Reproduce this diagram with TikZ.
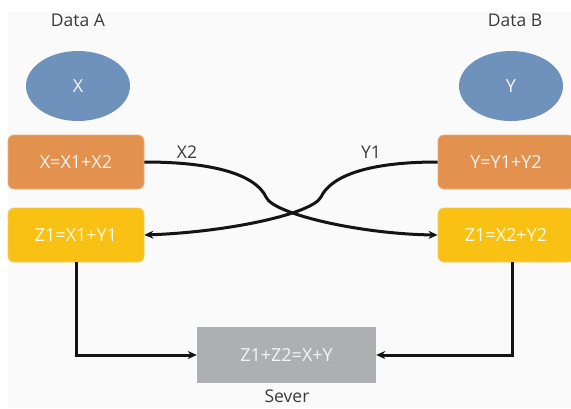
\documentclass[tikz,border=0pt]{standalone}
\usepackage{fontspec}
\setmainfont{Open Sans}
\usetikzlibrary{arrows.meta,shapes.geometric}
\definecolor{bgpanel}{HTML}{FAFAFA}
\definecolor{ellblue}{HTML}{6E92BC}
\definecolor{boxorange}{HTML}{E3914E}
\definecolor{boxorangeline}{HTML}{EBB07F}
\definecolor{boxyellow}{HTML}{F9C113}
\definecolor{boxyellowline}{HTML}{F3CC63}
\definecolor{boxgray}{HTML}{AEAFB2}
\definecolor{labelgray}{HTML}{3A3A3A}
\tikzset{
  every node/.style={font=\fontsize{18}{18}\selectfont, inner sep=0pt},
  datablob/.style={ellipse, fill=ellblue, minimum width=104pt, minimum height=70pt, text=white!92!ellblue},
  splitbox/.style={rectangle, rounded corners=6pt, fill=boxorange, draw=boxorangeline, line width=0.8pt,
    minimum width=136pt, minimum height=54pt, text=white!92!boxorange},
  sumbox/.style={rectangle, rounded corners=6pt, fill=boxyellow, draw=boxyellowline, line width=0.8pt,
    minimum width=136pt, minimum height=54pt, text=white!92!boxyellow},
  serverbox/.style={rectangle, fill=boxgray, minimum width=179pt, minimum height=56pt, text=white!88!boxgray},
  caption/.style={text=labelgray, font=\fontsize{17.5}{17.5}\selectfont},
  flow/.style={line width=3pt, black!92, -{Stealth[length=9pt,width=8pt]}},
}
\begin{document}
\begin{tikzpicture}[x=1pt, y=-1pt]
  \useasboundingbox (0,0) rectangle (571,408);
  \fill[white] (0,0) rectangle (571,408);
  \fill[bgpanel] (8,12) rectangle (571,408);

  % party A
  \node[caption] (dataA) at (78,20) {Data A};
  \node[datablob] (x) at (78,86) {X};
  \node[splitbox] (xsplit) at (76,162) {X=X1+X2};
  \node[sumbox] (zleft) at (76,235) {Z1=X1+Y1};

  % party B
  \node[caption] (dataB) at (515,20) {Data B};
  \node[datablob] (y) at (511,86) {Y};
  \node[splitbox] (ysplit) at (506,162) {Y=Y1+Y2};
  \node[sumbox] (zright) at (506,235) {Z1=X2+Y2};

  % server
  \node[serverbox] (server) at (286.5,355) {Z1+Z2=X+Y};
  \node[caption, anchor=base] (sever) at (287,402) {Sever};

  % exchanged shares
  \node[caption] (lx2) at (187,152) {X2};
  \node[caption] (ly1) at (371,152) {Y1};
  \coordinate (kinkA) at (266,197);
  \coordinate (kinkB) at (321,197);

  \draw[flow] (xsplit.east) .. controls (228,162) and (258,180) .. (kinkA)
    .. controls (273,214) and (360,234) .. (zright.west);
  \draw[flow] (ysplit.west) .. controls (358,162) and (329,180) .. (kinkB)
    .. controls (312,214) and (228,232) .. (zleft.east);

  % results to the server
  \draw[flow] (zleft.south) |- (server.west);
  \draw[flow] (zright.south -| 512,0) |- (server.east);
\end{tikzpicture}
\end{document}
